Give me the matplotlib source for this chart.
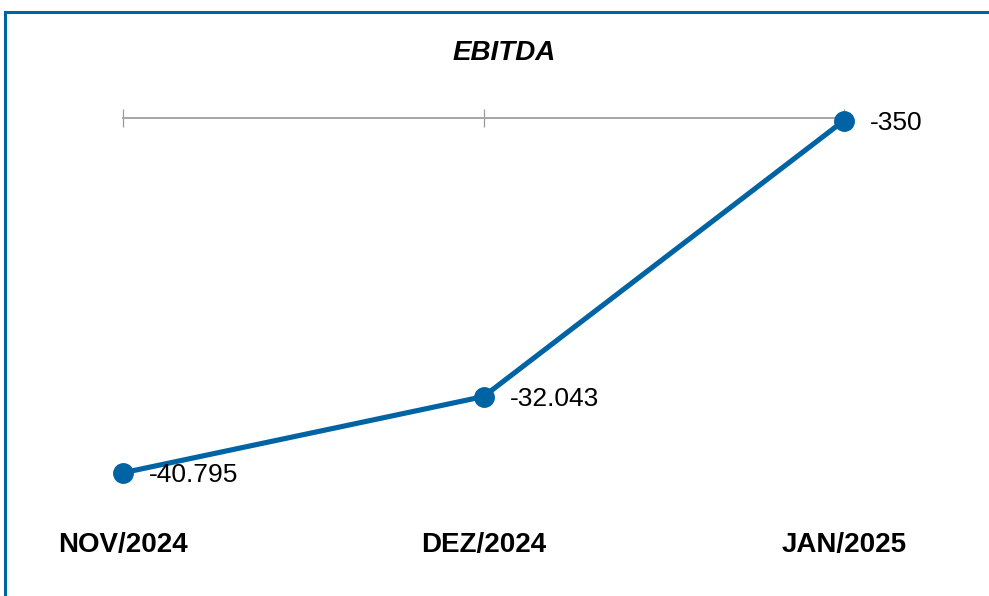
import matplotlib
matplotlib.use("Agg")
import matplotlib.pyplot as plt
from matplotlib.lines import Line2D
import matplotlib.transforms as mtransforms

categories = ["NOV/2024", "DEZ/2024", "JAN/2025"]
ebitda = [-40795, -32043, -350]
labels = ["-40.795", "-32.043", "-350"]
title = "EBITDA"

W, H = 989, 596
fig = plt.figure(figsize=(W / 100, H / 100), dpi=100)
ax = fig.add_axes([0, 0, 1, 1])

# pixel mapping: x=0 -> 123px, x=1 -> 483.5px ; y=0 -> 117.5px from top, 114.82 units/px
px_per_cat = 360.5
x0 = 123
ax.set_xlim(-x0 / px_per_cat, (W - x0) / px_per_cat)
upp = 114.82
y0 = 117.5
ax.set_ylim(-(H - y0) * upp, y0 * upp)

color = "#0063A3"
xs = list(range(len(categories)))
ax.plot(xs, ebitda, color=color, lw=3.7, marker="o", ms=14, zorder=3,
        solid_capstyle="round")

# axis at zero with crossing ticks
for s in ["top", "left", "right"]:
    ax.spines[s].set_visible(False)
ax.spines["bottom"].set_position(("data", 0))
ax.spines["bottom"].set_bounds(0, len(categories) - 1)
ax.spines["bottom"].set_color("#A6A6A6")
ax.spines["bottom"].set_linewidth(1.4)
ax.set_xticks(xs)
ax.set_xticklabels([])
ax.tick_params(axis="x", direction="inout", length=13, width=0.9, color="#9A9A9A")
ax.set_yticks([])
ax.patch.set_visible(False)

for x, v, lab in zip(xs, ebitda, labels):
    ax.annotate(lab, (x, v), xytext=(26, -2), textcoords="offset pixels",
                ha="left", va="center", fontsize=19, family="Liberation Sans",
                color="#000000")

trans = mtransforms.blended_transform_factory(ax.transData, fig.transFigure)
for x, c in zip(xs, categories):
    ax.text(x, 1 - 545 / H, c, transform=trans, ha="center", va="center",
            fontsize=20, fontweight="bold", family="Liberation Sans")

fig.text(504.5 / W, 1 - 53 / H, title, ha="center", va="center", fontsize=20,
         fontweight="bold", fontstyle="italic", family="Liberation Sans")

# blue frame (top and left visible)
fig.add_artist(Line2D([5 / W, 5 / W], [0, 1 - 12 / H], transform=fig.transFigure,
                      color=color, lw=2.2))
fig.add_artist(Line2D([5 / W, 1], [1 - 12 / H, 1 - 12 / H], transform=fig.transFigure,
                      color=color, lw=2.2))

fig.savefig("out.png", dpi=100)
